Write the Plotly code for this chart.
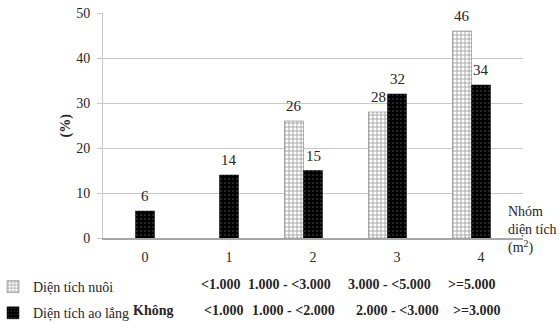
import plotly.graph_objects as go

# ---- data ----
groups = [0, 1, 2, 3, 4]
dien_tich_nuoi = [None, None, 26, 28, 46]
dien_tich_ao_lang = [6, 14, 15, 32, 34]
series_names = ["Diện tích nuôi", "Diện tích ao lắng"]
row1_labels = ["<1.000", "1.000 - <3.000", "3.000 - <5.000", ">=5.000"]
row2_labels = ["Không", "<1.000", "1.000 - <2.000", "2.000 - <3.000", ">=3.000"]
y_ticks = [0, 10, 20, 30, 40, 50]

# ---- layout constants ----
row1_x = [0.893, 1.726, 2.905, 3.881]
row2_x = [0.095, 0.929, 1.762, 3.0, 3.952]
BW = 0.226
OFFSETS = [-1.5 * BW, -0.5 * BW]
SERIF = "Liberation Serif"
TXT = "#262626"

fig = go.Figure()
fig.add_trace(go.Bar(
    x=groups, y=dien_tich_nuoi, name=series_names[0],
    width=BW, offset=OFFSETS[0], legendgroup="a",
    marker=dict(color="white", line=dict(color="#666", width=0.5),
                pattern=dict(shape="+", fgcolor="#444", bgcolor="white", size=4, solidity=0.4)),
))
fig.add_trace(go.Bar(
    x=groups, y=dien_tich_ao_lang, name=series_names[1],
    width=BW, offset=OFFSETS[1], legendgroup="b",
    marker=dict(color="black", line=dict(color="black", width=0.5),
                pattern=dict(shape=".", fgcolor="#8a8a8a", bgcolor="black", size=4, solidity=0.15)),
))

annotations = []
# value labels, placed above each bar via the data coordinates
for series, off in zip([dien_tich_nuoi, dien_tich_ao_lang], OFFSETS):
    for g, v in zip(groups, series):
        if v is None:
            continue
        annotations.append(dict(x=g + off + BW / 2, xref="x", y=v, yref="y", text=str(v),
                                showarrow=False, xanchor="center", yanchor="middle", yshift=15,
                                font=dict(family=SERIF, size=15, color=TXT)))
for lbl, x in zip(row1_labels, row1_x):
    annotations.append(dict(x=x, xref="x", y=(238 - 284) / 225, yref="paper",
                            text="<b>%s</b>" % lbl, showarrow=False, xanchor="center", yanchor="middle",
                            font=dict(family=SERIF, size=14, color=TXT)))
for lbl, x in zip(row2_labels, row2_x):
    annotations.append(dict(x=x, xref="x", y=(238 - 310) / 225, yref="paper",
                            text="<b>%s</b>" % lbl, showarrow=False, xanchor="center", yanchor="middle",
                            font=dict(family=SERIF, size=14, color=TXT)))
annotations.append(dict(x=(506 - 103) / 420, xref="paper", y=(238 - 230) / 225, yref="paper",
                        text="Nhóm<br>diện tích<br>(m<sup>2</sup>)", showarrow=False,
                        xanchor="left", yanchor="middle", align="left",
                        font=dict(family=SERIF, size=14, color=TXT)))
annotations.append(dict(x=(65 - 103) / 420, xref="paper", y=0.5, yref="paper",
                        text="<b>(%)</b>", textangle=-90, showarrow=False,
                        xanchor="center", yanchor="middle",
                        font=dict(family=SERIF, size=14, color=TXT)))

fig.update_layout(
    width=559, height=322,
    margin=dict(l=103, r=36, t=13, b=84, autoexpand=False),
    paper_bgcolor="white", plot_bgcolor="white",
    barmode="overlay",
    showlegend=True,
    legend=dict(x=(-7 - 103) / 420, xanchor="left", y=(238 - 271) / 225, yanchor="top",
                orientation="v", traceorder="grouped", tracegroupgap=5,
                font=dict(family=SERIF, size=14, color=TXT), bgcolor="rgba(0,0,0,0)"),
    annotations=annotations,
    font=dict(family=SERIF, size=14, color=TXT),
)
fig.update_xaxes(range=[-0.5, 4.5], tickmode="array", tickvals=groups,
                 ticktext=[str(g) for g in groups], showgrid=False,
                 showline=True, linecolor="#a6a6a6", linewidth=2, ticks="",
                 ticklabelstandoff=5,
                 tickfont=dict(family=SERIF, size=14, color=TXT), zeroline=False)
fig.update_yaxes(range=[0, 50], tickvals=y_ticks, showgrid=True, gridcolor="#c8c8c8",
                 gridwidth=1, showline=True, linecolor="#c8c8c8", linewidth=1,
                 ticks="outside", ticklen=5, tickcolor="#c8c8c8", ticklabelstandoff=4,
                 tickfont=dict(family=SERIF, size=14, color=TXT), zeroline=False)

fig.write_html("out.html", config={"displayModeBar": False},
               post_script="document.body.style.margin='0px';document.body.style.overflow='hidden';")
